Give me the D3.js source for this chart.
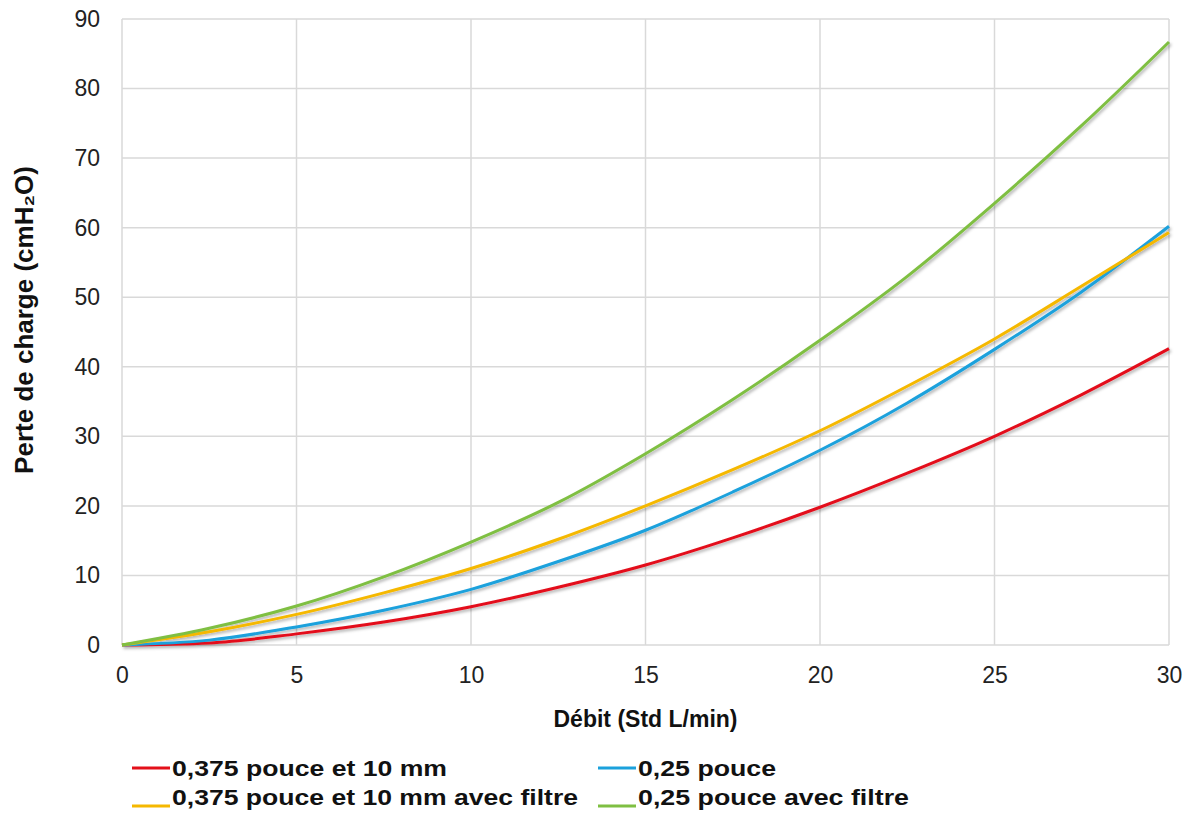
<!DOCTYPE html>
<html>
<head>
<meta charset="utf-8">
<script src="https://cdn.jsdelivr.net/npm/d3@7"></script>
<style>
  body { margin: 0; background: #fff; }
  svg text { font-family: "Liberation Sans", Arial, sans-serif; }
</style>
</head>
<body>
<div id="chart"></div>
<script>
// values
var debit = [0, 2.5, 5, 7.5, 10, 12.5, 15, 17.5, 20, 22.5, 25, 27.5, 30];
var red_vals    = [0, 0.3, 1.6, 3.3, 5.5, 8.3, 11.5, 15.4, 19.8, 24.7, 30, 36, 42.6];
var blue_vals   = [0, 0.7, 2.6, 5.0, 8.0, 12.0, 16.5, 22.0, 28.0, 34.8, 42.5, 50.8, 60.2];
var yellow_vals = [0, 1.9, 4.4, 7.5, 11.0, 15.2, 20.0, 25.2, 30.8, 37.2, 44.0, 51.6, 59.3];
var green_vals  = [0, 2.4, 5.6, 9.8, 14.8, 20.5, 27.5, 35.3, 43.8, 53.0, 63.5, 74.7, 86.7];
var series_names = ['0,375 pouce et 10 mm', '0,25 pouce', '0,375 pouce et 10 mm avec filtre', '0,25 pouce avec filtre'];
var x_ticks = [0, 5, 10, 15, 20, 25, 30];
var y_ticks = [0, 10, 20, 30, 40, 50, 60, 70, 80, 90];

var colors = ['#e3101a', '#1ba1dc', '#f5b800', '#7fbf42'];
var all_vals = [red_vals, blue_vals, yellow_vals, green_vals];

var width = 1194, height = 816;
// note: "top" is a reserved window global, so prefix these
var plot_left = 122, plot_right = 1169, plot_top = 19, plot_bottom = 645;

var svg = d3.select('#chart').append('svg')
  .attr('width', width)
  .attr('height', height);

var defs = svg.append('defs');
var f = defs.append('filter').attr('id', 'shadow')
  .attr('x', '-5%').attr('y', '-5%').attr('width', '110%').attr('height', '110%');
f.append('feDropShadow')
  .attr('dx', 1.5).attr('dy', 2)
  .attr('stdDeviation', 1.5)
  .attr('flood-color', '#000')
  .attr('flood-opacity', 0.3);

var x = d3.scaleLinear().domain([0, 30]).range([plot_left, plot_right]);
var y = d3.scaleLinear().domain([0, 90]).range([plot_bottom, plot_top]);

// grid
svg.append('g')
  .selectAll('line')
  .data(y_ticks)
  .enter().append('line')
    .attr('x1', plot_left).attr('x2', plot_right)
    .attr('y1', d => y(d)).attr('y2', d => y(d))
    .attr('stroke', '#d9d9d9').attr('stroke-width', 1.5);

svg.append('g')
  .selectAll('line')
  .data(x_ticks)
  .enter().append('line')
    .attr('x1', d => x(d)).attr('x2', d => x(d))
    .attr('y1', plot_top).attr('y2', plot_bottom)
    .attr('stroke', '#d9d9d9').attr('stroke-width', 1.5);

// axes (labels only)
var xAxis = svg.append('g')
  .attr('transform', 'translate(0,' + plot_bottom + ')')
  .call(d3.axisBottom(x).tickValues(x_ticks).tickSize(0).tickPadding(22));
xAxis.select('.domain').remove();
xAxis.selectAll('text').attr('font-size', 23).attr('fill', '#222')
  .style('font-family', '"Liberation Sans", Arial, sans-serif');

var yAxis = svg.append('g')
  .attr('transform', 'translate(' + plot_left + ',0)')
  .call(d3.axisLeft(y).tickValues(y_ticks).tickSize(0).tickPadding(22));
yAxis.select('.domain').remove();
yAxis.selectAll('text').attr('font-size', 23).attr('fill', '#222')
  .style('font-family', '"Liberation Sans", Arial, sans-serif');

// curves
var line = d3.line()
  .x((d, i) => x(debit[i]))
  .y(d => y(d))
  .curve(d3.curveMonotoneX);

var lines_g = svg.append('g').attr('filter', 'url(#shadow)');
all_vals.forEach(function(vals, i) {
  lines_g.append('path')
    .attr('d', line(vals))
    .attr('fill', 'none')
    .attr('stroke', colors[i])
    .attr('stroke-width', 3);
});

// axis titles
svg.append('text')
  .attr('x', (plot_left + plot_right) / 2).attr('y', 727)
  .attr('text-anchor', 'middle')
  .attr('font-size', 23).attr('font-weight', 'bold')
  .attr('fill', '#111')
  .text('Débit (Std L/min)');

svg.append('text')
  .attr('transform', 'translate(33,320) rotate(-90)')
  .attr('text-anchor', 'middle')
  .attr('font-size', 26).attr('font-weight', 'bold')
  .attr('fill', '#111')
  .text('Perte de charge (cmH₂O)');

// legend
var legend_pos = [
  {lx: 132, ty: 776, ly: 768, w: 275},
  {lx: 598, ty: 776, ly: 768, w: 138},
  {lx: 132, ty: 805, ly: 806, w: 406},
  {lx: 598, ty: 805, ly: 806, w: 271}
];
var legend = svg.append('g');
series_names.forEach(function(name, i) {
  var p = legend_pos[i];
  legend.append('line')
    .attr('x1', p.lx).attr('x2', p.lx + 38)
    .attr('y1', p.ly).attr('y2', p.ly)
    .attr('stroke', colors[i]).attr('stroke-width', 3);
  legend.append('text')
    .attr('x', p.lx + 40).attr('y', p.ty)
    .attr('font-size', 22).attr('font-weight', 'bold')
    .attr('textLength', p.w).attr('lengthAdjust', 'spacingAndGlyphs')
    .attr('fill', '#111')
    .text(name);
});
</script>
</body>
</html>
